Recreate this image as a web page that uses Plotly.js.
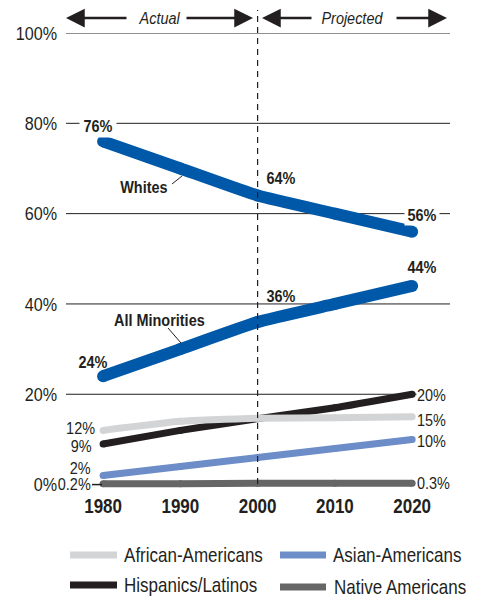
<!DOCTYPE html>
<html>
<head>
<meta charset="utf-8">
<script src="https://cdn.plot.ly/plotly-3.0.1.min.js"></script>
<style>html,body{margin:0;padding:0;background:#fff;}#chart{width:477px;height:599px;}</style>
</head>
<body>
<div id="chart"></div>
<script>
// ---- data ----
var years = [1980, 1990, 2000, 2010, 2020];
var whites = [76, 70, 64, 60, 56];
var allMinorities = [24, 30, 36, 40, 44];
var africanAmericans = [12, 14, 14.7, 14.8, 15];
var hispanics = [9, 12, 14.6, 17, 20];
var asianAmericans = [2, 4, 6, 8, 10];
var nativeAmericans = [0.2, 0.2, 0.3, 0.3, 0.3];
var seriesNames = ['African-Americans', 'Asian-Americans', 'Hispanics/Latinos', 'Native Americans'];
var yTickVals = [0, 20, 40, 60, 80, 100];
var yTickText = ['0%', '20%', '40%', '60%', '80%', '100%'];
var xTickVals = [1980, 1990, 2000, 2010, 2020];
var dividerYear = 2000;

// ---- style ----
var FONT = '"Liberation Sans", Arial, sans-serif';
var SQUEEZE = 0.85; // condensed look
var INK = '#231f20';
var BLUE = '#0058a8';
var C_AFR = '#d3d4d6', C_ASN = '#6c8dc8', C_HSP = '#231f20', C_NAT = '#666666';

var W = 477, H = 599;
var mL = 66, mR = 27, mT = 33, mB = 109;
var PW = W - mL - mR, PH = H - mT - mB;
function px(x) { return (x - mL) / PW; }
function py(y) { return (H - mB - y) / PH; }

function line(name, ys, color, width) {
  return {
    x: years, y: ys, name: name, type: 'scatter', mode: 'lines+markers',
    line: {color: color, width: width, shape: 'spline', smoothing: 0.4},
    marker: {color: color, size: width, line: {width: 0}},
    cliponaxis: false, showlegend: false, hoverinfo: 'skip'
  };
}

var traces = [
  line(seriesNames[3], nativeAmericans, C_NAT, 7),
  line(seriesNames[1], asianAmericans, C_ASN, 7),
  line(seriesNames[2], hispanics, C_HSP, 7),
  line(seriesNames[0], africanAmericans, C_AFR, 7),
  line('All Minorities', allMinorities, BLUE, 12),
  line('Whites', whites, BLUE, 12)
];

function pct(v) { return v + '%'; }

var ann = [];
function lab(text, x, y, opts) {
  var a = {text: text, xref: 'paper', yref: 'paper', x: px(x), y: py(y),
    showarrow: false, xanchor: 'center', yanchor: 'middle',
    font: {family: FONT, size: 17, color: INK},
    bgcolor: 'rgba(0,0,0,0)', borderpad: 0};
  for (var k in opts) a[k] = opts[k];
  return a;
}
var BOLD = {family: FONT, size: 17, color: INK, weight: 'bold'};
var REG = {family: FONT, size: 17, color: INK};
// bold labels
ann.push(lab(pct(whites[0]), 98, 126, {font: BOLD, bgcolor: '#fff', borderpad: 1}));
ann.push(lab('Whites', 144, 187, {font: BOLD}));
ann.push(lab(pct(whites[2]), 281, 179, {font: BOLD}));
ann.push(lab(pct(whites[4]), 422, 216, {font: BOLD, bgcolor: '#fff', borderpad: 0}));
ann.push(lab(pct(allMinorities[4]), 422, 267, {font: BOLD}));
ann.push(lab(pct(allMinorities[2]), 281, 297, {font: BOLD}));
ann.push(lab('All Minorities', 159, 320, {font: BOLD}));
ann.push(lab(pct(allMinorities[0]), 93, 362, {font: BOLD}));
// left small labels
ann.push(lab(pct(africanAmericans[0]), 96, 428, {font: REG, xanchor: 'right'}));
ann.push(lab(pct(hispanics[0]), 93, 446, {font: REG, xanchor: 'right'}));
ann.push(lab(pct(asianAmericans[0]), 92, 468, {font: REG, xanchor: 'right'}));
ann.push(lab(pct(nativeAmericans[0]), 92, 484, {font: REG, xanchor: 'right'}));
// right small labels
ann.push(lab(pct(hispanics[4]), 416, 395, {font: REG, xanchor: 'left', bgcolor: '#fff'}));
ann.push(lab(pct(africanAmericans[4]), 416, 420, {font: REG, xanchor: 'left'}));
ann.push(lab(pct(asianAmericans[4]), 416, 441, {font: REG, xanchor: 'left'}));
ann.push(lab(pct(nativeAmericans[4]), 416, 483, {font: REG, xanchor: 'left'}));
// header
var IT = {family: FONT, size: 17, color: INK, style: 'italic'};
ann.push(lab('Actual', 159, 18, {font: IT}));
ann.push(lab('Projected', 352, 18, {font: IT}));
function arrow(tip, tail) {
  return {xref: 'paper', yref: 'paper', x: px(tip), y: py(18), axref: 'paper', ayref: 'paper',
    ax: px(tail), ay: py(18), text: '', showarrow: true, arrowhead: 2, arrowsize: 1.5,
    arrowwidth: 2.5, arrowcolor: INK, standoff: 0, startstandoff: 0};
}
ann.push(arrow(66, 128));
ann.push(arrow(253, 185));
ann.push(arrow(262, 313));
ann.push(arrow(447, 395));
// legend text
var LEG = {family: FONT, size: 20, color: INK};
ann.push(lab(seriesNames[0], 123, 555, {font: LEG, xanchor: 'left'}));
ann.push(lab(seriesNames[1], 332, 555, {font: LEG, xanchor: 'left'}));
ann.push(lab(seriesNames[2], 123, 585, {font: LEG, xanchor: 'left'}));
ann.push(lab(seriesNames[3], 333, 587, {font: LEG, xanchor: 'left'}));

var shapes = [];
// gridlines (no line at 0%)
yTickVals.forEach(function (v) {
  if (v === 0) return;
  shapes.push({type: 'line', layer: 'below', xref: 'paper', yref: 'y', x0: 0, x1: 1, y0: v, y1: v,
    line: {color: INK, width: 1}});
});
shapes.push(
  {type: 'line', xref: 'paper', yref: 'y', x0: px(92), x1: px(102), y0: 0, y1: 0, line: {color: INK, width: 1.5}},
  {type: 'line', xref: 'x', yref: 'paper', x0: dividerYear, x1: dividerYear, y0: py(484), y1: py(10),
   line: {color: INK, width: 1.2, dash: '6px,5px'}},
  // leader lines
  {type: 'line', xref: 'paper', yref: 'paper', x0: px(172), y0: py(184), x1: px(182), y1: py(176), line: {color: INK, width: 1}},
  {type: 'line', xref: 'paper', yref: 'paper', x0: px(168), y0: py(328), x1: px(181), y1: py(343), line: {color: INK, width: 1}},
  // legend swatches
  {type: 'line', xref: 'paper', yref: 'paper', x0: px(70), y0: py(555), x1: px(117), y1: py(555), line: {color: C_AFR, width: 7}},
  {type: 'line', xref: 'paper', yref: 'paper', x0: px(280), y0: py(555), x1: px(326), y1: py(555), line: {color: C_ASN, width: 7}},
  {type: 'line', xref: 'paper', yref: 'paper', x0: px(70), y0: py(585), x1: px(117), y1: py(585), line: {color: C_HSP, width: 7}},
  {type: 'line', xref: 'paper', yref: 'paper', x0: px(280), y0: py(587), x1: px(326), y1: py(587), line: {color: C_NAT, width: 7}}
);

var layout = {
  width: W, height: H,
  margin: {l: mL, r: mR, t: mT, b: mB, pad: 0},
  paper_bgcolor: '#fff', plot_bgcolor: 'rgba(0,0,0,0)',
  showlegend: false,
  xaxis: {range: [1975.2, 2024.9], tickvals: xTickVals, ticktext: xTickVals.map(String),
    showgrid: false, zeroline: false, showline: false, ticks: '',
    tickfont: {family: FONT, size: 20, color: INK, weight: 'bold'}, ticklabelstandoff: 2},
  yaxis: {range: [-1.2, 100], tickvals: yTickVals, ticktext: yTickText,
    showgrid: false, zeroline: false, showline: false, ticks: '',
    tickfont: {family: FONT, size: 19, color: INK}, ticklabelstandoff: 8},
  annotations: ann,
  shapes: shapes
};

function squeeze(el, side) {
  var b;
  try { b = el.getBBox(); } catch (e) { return; }
  if (!b || !b.width) return;
  var p = side === 'left' ? b.x : (side === 'right' ? b.x + b.width : b.x + b.width / 2);
  var t = el.getAttribute('transform') || '';
  el.setAttribute('transform', t + ' translate(' + p + ',0) scale(' + SQUEEZE + ',1) translate(' + (-p) + ',0)');
}

Plotly.newPlot('chart', traces, layout, {displayModeBar: false, staticPlot: true}).then(function (gd) {
  gd.querySelectorAll('g.ytick text').forEach(function (el) { squeeze(el, 'right'); });
  gd.querySelectorAll('g.xtick text').forEach(function (el) { squeeze(el, 'center'); });
  gd.querySelectorAll('g.annotation').forEach(function (g) {
    var i = +g.getAttribute('data-index');
    var a = ann[i];
    var el = g.querySelector('text.annotation-text');
    if (a && el && a.text) squeeze(el, a.xanchor || 'center');
  });
});
</script>
</body>
</html>
